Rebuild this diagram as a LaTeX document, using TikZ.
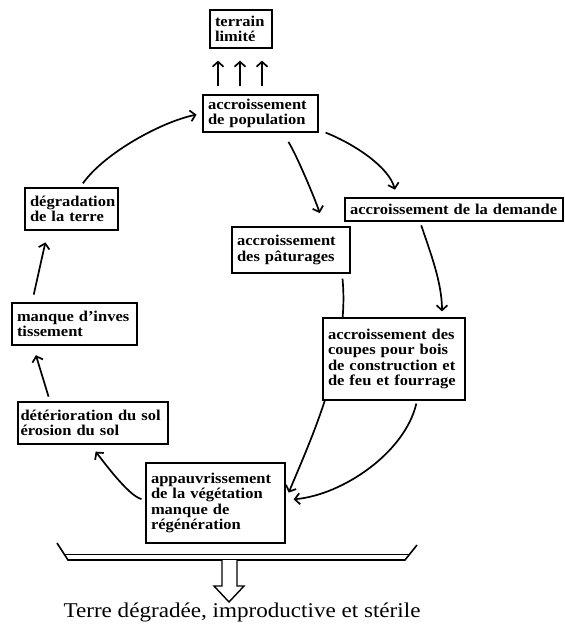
\documentclass[tikz,border=0pt]{standalone}
\usepackage{fontspec}
\setmainfont{Liberation Serif}[FakeStretch=1.1]
\usepackage{tikz}
\usetikzlibrary{arrows.meta}

\begin{document}
\begin{tikzpicture}[x=1pt, y=-1pt,
    every node/.style = {shape=rectangle, draw, line width=1.2pt,
      align=left, inner xsep=5pt, inner ysep=3pt,
      font=\bfseries\fontsize{15}{15.5}\selectfont},
    link/.style = {line width=1.7pt,
      -{Straight Barb[length=5pt,width=11pt]}}]
  \useasboundingbox (0,0) rectangle (565,640);

  \node[text width=52pt, minimum height=38pt] (terrain) at (241,29) {terrain\\limité};
  \node[text width=105pt, minimum height=37pt] (popul) at (260.5,113.5) {accroissement\\de population};
  \node[text width=208pt, minimum height=23pt] (demande) at (454,209.5) {accroissement de la demande};
  \node[text width=108pt, minimum height=46pt] (patur) at (291,250) {accroissement\\des pâturages};
  \node[text width=129pt, minimum height=80pt] (appauv) at (215.5,503) {appauvrissement\\de la végétation\\manque de\\régénération};
  \node[text width=83pt, minimum height=42pt] (degrad) at (71.5,209) {dégradation\\de la terre};
  \node[text width=115pt, minimum height=42pt] (invest) at (74.5,324) {manque d'inves\\tissement};
  \node[text width=145pt, inner xsep=2.5pt, minimum height=42pt] (erosion) at (93,423) {détérioration du sol\\érosion du sol};

  % the pasture line runs on under the felling box
  \draw[link, shorten <=5pt, shorten >=8pt] ([xshift=51pt]patur.south)
    .. controls +(8,82) and +(25,-60) .. ([yshift=3pt]appauv.east);
  \node[fill=white, text width=132pt, minimum height=82pt] (coupes) at (394,359) {accroissement des\\coupes pour bois\\de construction et\\de feu et fourrage};

  \foreach \dx in {-23,-1,21}
    \draw[link, shorten <=8pt, shorten >=12pt] ([xshift=\dx pt]terrain.south |- popul.north) -- ([xshift=\dx pt]terrain.south);

  \draw[link, shorten <=5pt, shorten >=6pt] ([xshift=8.5pt]degrad.north)
    .. controls +(25,-35) and +(-40,8) .. (popul.west);
  \draw[link, shorten <=11pt, shorten >=14pt] ([xshift=22pt]popul.south)
    .. controls +(14,22) and +(-8,-25) .. ([xshift=33pt]patur.north);
  \draw[link, shorten >=8pt] ([xshift=7pt]popul.south east)
    .. controls +(30,12) and +(-8,-30) .. ([xshift=-57pt]demande.north);
  \draw[link, shorten <=4pt, shorten >=6pt] ([xshift=-34pt]demande.south)
    .. controls +(10,30) and +(0,-35) .. ([xshift=48pt]coupes.north);
  \draw[link, shorten <=3pt, shorten >=8pt] ([xshift=23pt]coupes.south)
    .. controls +(-12,52) and +(57,-5) .. ([yshift=3pt]appauv.east);
  \draw[link, shorten <=4pt, shorten >=9pt] ([yshift=3pt]appauv.west)
    .. controls +(-17,-4) and +(12,15) .. ([xshift=-3pt]erosion.south);
  \draw[link, shorten <=5pt, shorten >=10pt] ([xshift=-43pt]erosion.north) -- ([xshift=-41.5pt]invest.south);
  \draw[link, shorten <=8pt, shorten >=12pt] ([xshift=-42.5pt]invest.north) -- ([xshift=-23.5pt]degrad.south);

  % tray and outlet
  \draw[line width=1.6pt] (57,543) -- (68,560) -- (405,560) -- (417,545);
  \draw[line width=0.8pt] (64,554) -- (409,554);
  \draw[line width=1.4pt, fill=white] (222,560) -- (222,586) -- (214,586) -- (229,602)
    -- (244,586) -- (237,586) -- (237,560);
  \node[draw=none, anchor=base, font=\fontsize{21}{21}\selectfont] (result) at (242,617)
    {Terre dégradée, improductive et stérile};
\end{tikzpicture}
\end{document}
